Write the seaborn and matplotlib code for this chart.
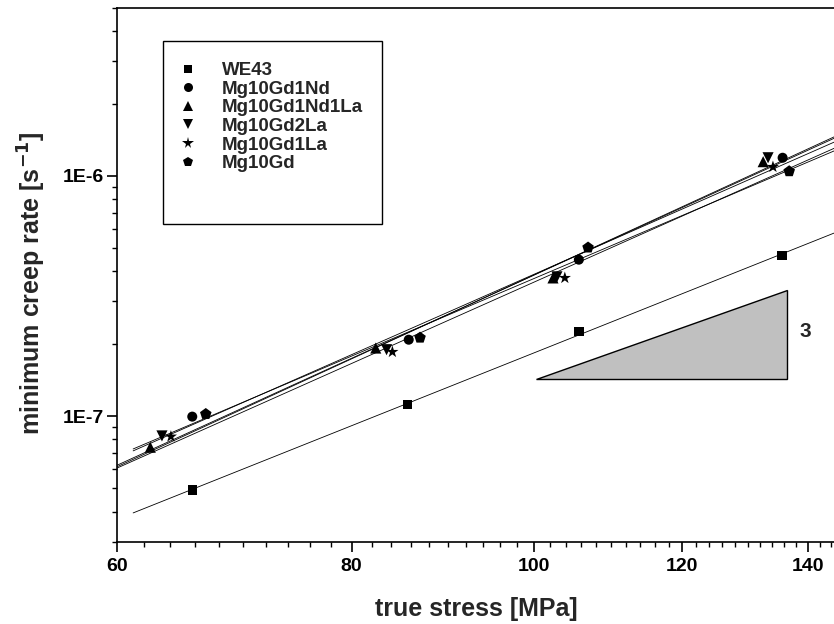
import numpy as np
import pandas as pd
import seaborn as sns
import matplotlib.pyplot as plt
from matplotlib.lines import Line2D
from matplotlib.patches import Polygon, Rectangle
from matplotlib.ticker import FixedLocator, FuncFormatter, LogLocator, NullFormatter

# ---------------- data ----------------
alloys = ["WE43", "Mg10Gd1Nd", "Mg10Gd1Nd1La", "Mg10Gd2La", "Mg10Gd1La", "Mg10Gd"]
marker_list = ["s", "o", "^", "v", "*", "p"]
marker_area = [45, 52, 64, 64, 85, 76]

we43_stress = [65.8, 85.7, 105.7, 135.6]
we43_rate = [4.93e-8, 1.12e-7, 2.25e-7, 4.65e-7]
gd1nd_stress = [65.8, 85.8, 105.7, 135.7]
gd1nd_rate = [9.95e-8, 2.08e-7, 4.48e-7, 1.19e-6]
gd1nd1la_stress = [62.5, 82.4, 102.4, 132.5]
gd1nd1la_rate = [7.42e-8, 1.92e-7, 3.76e-7, 1.146e-6]
gd2la_stress = [63.4, 83.5, 102.9, 133.3]
gd2la_rate = [8.27e-8, 1.89e-7, 3.80e-7, 1.19e-6]
gd1la_stress = [64.1, 84.1, 103.9, 134.1]
gd1la_rate = [8.22e-8, 1.85e-7, 3.76e-7, 1.09e-6]
gd_stress = [66.9, 87.0, 106.9, 136.8]
gd_rate = [1.02e-7, 2.12e-7, 5.03e-7, 1.045e-6]

stress_sets = [we43_stress, gd1nd_stress, gd1nd1la_stress, gd2la_stress, gd1la_stress, gd_stress]
rate_sets = [we43_rate, gd1nd_rate, gd1nd1la_rate, gd2la_rate, gd1la_rate, gd_rate]
fit_start = [61.2, 61.2, 58.0, 58.0, 58.0, 61.2]

# slope triangle (annotation)
tri_stress = [100.3, 136.5, 136.5]
tri_rate = [1.425e-7, 1.425e-7, 3.36e-7]
slope_label = "3"

x_ticks = [60, 80, 100, 120, 140]

# ---------------- style ----------------
sns.set_theme(style="ticks")
plt.rcParams['font.family'] = ['Liberation Sans', 'DejaVu Sans']
plt.rcParams['font.weight'] = 'bold'
plt.rcParams['axes.labelweight'] = 'bold'

rows = []
for name, xs, ys in zip(alloys, stress_sets, rate_sets):
    for xv, yv in zip(xs, ys):
        rows.append({"alloy": name, "stress": xv, "rate": yv})
df = pd.DataFrame(rows)

fig = plt.figure(figsize=(8.34, 6.24), dpi=100)
W, H = 834, 624
left_px, bottom_px, top_px = 117, 541.7, 8
xmin, xmax = 60, 145
ax_w_px = (np.log10(xmax) - np.log10(xmin)) * 1878
ax_h_px = bottom_px - top_px
ax = fig.add_axes([left_px / W, (H - bottom_px) / H, ax_w_px / W, ax_h_px / H])

ax.set_xscale('log')
ax.set_yscale('log')

# slope triangle
ax.add_patch(Polygon(np.column_stack([tri_stress, tri_rate]), closed=True,
                     facecolor='#c0c0c0', edgecolor='black', lw=1.0, zorder=1))
ax.text(139.5, 2.25e-7, slope_label, fontsize=15, fontweight='bold',
        ha='center', va='center')

# fit lines
for name, xs, ys, x0 in zip(alloys, stress_sets, rate_sets, fit_start):
    c = np.polyfit(np.log10(xs), np.log10(ys), 1)
    xx = np.geomspace(x0, 150, 60)
    ax.plot(xx, 10 ** np.polyval(c, np.log10(xx)), color='black', lw=0.6, zorder=2)

sns.scatterplot(data=df, x='stress', y='rate', style='alloy', size='alloy',
                markers=dict(zip(alloys, marker_list)),
                sizes=dict(zip(alloys, marker_area)),
                color='black', edgecolor='none', linewidth=0,
                legend=False, ax=ax, zorder=3)

ax.set_xlim(xmin, xmax)
ax.set_ylim(3e-8, 5e-6)

ax.xaxis.set_major_locator(FixedLocator(x_ticks))
ax.xaxis.set_minor_locator(FixedLocator([v for v in range(62, 150, 2) if v not in x_ticks]))
ax.xaxis.set_major_formatter(FuncFormatter(lambda v, p: f"{v:g}"))
ax.xaxis.set_minor_formatter(NullFormatter())
ax.yaxis.set_major_locator(LogLocator(base=10, numticks=10))
ax.yaxis.set_minor_locator(LogLocator(base=10, subs=np.arange(2, 10), numticks=20))
ax.yaxis.set_major_formatter(FuncFormatter(lambda v, p: "1E%d" % round(np.log10(v))))
ax.yaxis.set_minor_formatter(NullFormatter())

ax.tick_params(which='major', direction='out', length=7.5, width=1.2, labelsize=14,
               color='black', labelcolor='black')
ax.tick_params(which='minor', direction='out', length=3.8, width=1.0, color='black')
ax.tick_params(axis='x', which='major', pad=4)
ax.tick_params(axis='y', which='major', pad=1.5)
for lab in ax.get_xticklabels() + ax.get_yticklabels():
    lab.set_fontweight('bold')
for s in ax.spines.values():
    s.set_linewidth(1.2)
    s.set_color('black')

ax.set_xlabel('')
ax.set_ylabel('')
fig.text(476 / W, 1 - 609 / H, 'true stress [MPa]', ha='center', va='center',
         fontsize=18, fontweight='bold')
fig.text(32 / W, 1 - 283 / H, 'minimum creep rate [s$^{\\mathbf{-1}}$]', rotation=90,
         ha='center', va='center', fontsize=18, fontweight='bold')

# legend (entries without frame) + Origin-style rectangular frame
handles = [Line2D([], [], ls='none', marker=m, color='black', markersize=ms,
                  markeredgewidth=0)
           for m, ms in zip(marker_list, [6, 6.5, 7, 7, 8.5, 7.5])]
leg = ax.legend(handles, alloys, loc='upper left',
                bbox_to_anchor=((181.7 - left_px) / ax_w_px, (bottom_px - 62) / ax_h_px),
                frameon=False, prop={'size': 13.5, 'weight': 'bold'}, borderpad=0,
                handlelength=0.7, handletextpad=1.45, labelspacing=0.08,
                borderaxespad=0)
fig.add_artist(Rectangle((162.7 / W, 1 - 224 / H), (382 - 162.7) / W, (224 - 40.7) / H,
                         transform=fig.transFigure, fill=False, lw=1.0, ec='black'))

fig.savefig('out.png', dpi=100)
